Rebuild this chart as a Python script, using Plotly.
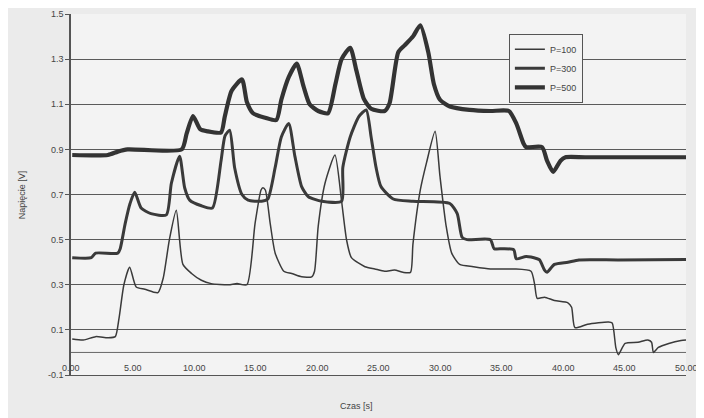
import plotly.graph_objects as go

# ---- data ----
t100 = [0.1, 1.0, 2.0, 3.0, 3.6, 3.9, 4.3, 4.77, 5.3, 6.0, 7.07, 7.5, 8.0, 8.56, 9.1, 9.8, 10.6, 11.4, 12.8, 13.5, 14.3,
        14.96, 15.45, 15.6, 15.8, 16.2, 16.6, 17.3, 17.94, 18.75, 19.57, 19.8, 20.1, 20.65, 21.46, 22.0, 22.4, 22.8, 23.9,
        24.7, 25.5, 26.3, 27.0, 27.6, 27.8, 28.4, 28.9, 29.6, 30.0, 30.5, 30.95, 31.6, 32.7, 34.1, 36.0, 37.4, 37.7, 37.9,
        38.5, 39.3, 40.4, 40.7, 40.97, 42.0, 43.7, 44.0, 44.3, 44.5, 45.05, 46.1, 46.9, 47.2, 47.35, 47.75, 48.6, 49.6, 50.0]
v100 = [0.06, 0.055, 0.07, 0.065, 0.07, 0.15, 0.3, 0.378, 0.29, 0.28, 0.265, 0.33, 0.5, 0.63, 0.39, 0.35, 0.32, 0.305, 0.3, 0.305, 0.3,
        0.57, 0.72, 0.73, 0.72, 0.57, 0.44, 0.36, 0.35, 0.335, 0.335, 0.36, 0.56, 0.75, 0.875, 0.67, 0.5, 0.42, 0.38,
        0.37, 0.36, 0.365, 0.355, 0.355, 0.48, 0.72, 0.84, 0.98, 0.78, 0.56, 0.44, 0.39, 0.38, 0.37, 0.37, 0.36, 0.3, 0.24,
        0.245, 0.23, 0.22, 0.2, 0.11, 0.125, 0.135, 0.13, 0.02, -0.01, 0.04, 0.045, 0.055, 0.045, 0.0, 0.022, 0.04, 0.053, 0.055]

t300 = [0.1, 1.65, 2.0, 3.8, 4.0, 4.4, 4.8, 5.18, 5.7, 6.5, 7.75, 8.16, 8.83, 9.24, 9.65, 10.6, 11.5, 12.2, 12.52, 12.9,
        13.3, 13.9, 14.4, 15.5, 16.0, 16.6, 17.1, 17.7, 18.2, 18.75, 19.3, 20.4, 22.0, 22.1, 22.7, 23.4, 24.0, 24.4, 24.8,
        25.2, 26.2, 27.8, 30.8, 31.4, 31.8, 32.2, 34.1, 34.4, 35.1, 36.0, 36.2, 37.0, 37.9, 38.1, 38.5, 38.7, 39.3, 40.4,
        41.3, 44.5, 50.0]
v300 = [0.42, 0.42, 0.44, 0.44, 0.46, 0.57, 0.66, 0.71, 0.64, 0.615, 0.61, 0.75, 0.87, 0.73, 0.675, 0.65, 0.64, 0.85, 0.96, 0.985,
        0.82, 0.70, 0.675, 0.67, 0.68, 0.82, 0.955, 1.015, 0.87, 0.735, 0.69, 0.67, 0.67, 0.82, 0.955, 1.045, 1.075, 0.955, 0.82,
        0.735, 0.68, 0.67, 0.66, 0.615, 0.51, 0.50, 0.50, 0.46, 0.46, 0.455, 0.415, 0.425, 0.415, 0.41, 0.365, 0.355, 0.39, 0.40,
        0.41, 0.41, 0.412]

t500 = [0.1, 3.0, 3.8, 4.6, 9.0, 9.4, 9.92, 10.5, 11.1, 12.2, 12.5, 13.06, 13.9, 14.3, 14.8, 15.8, 16.7, 17.1, 17.7, 18.35,
        18.9, 19.4, 20.1, 20.9, 21.5, 22.0, 22.7, 23.2, 23.8, 24.4, 25.5, 25.9, 26.6, 27.1, 27.8, 28.4, 29.05, 29.5, 30.0,
        30.8, 32.4, 34.1, 35.6, 36.2, 36.8, 37.0, 38.3, 38.7, 39.2, 39.8, 40.2, 41.8, 50.0]
v500 = [0.875, 0.875, 0.89, 0.9, 0.9, 0.97, 1.048, 0.99, 0.98, 0.975, 1.045, 1.16, 1.21, 1.11, 1.06, 1.04, 1.03, 1.12, 1.22, 1.28,
        1.18, 1.1, 1.07, 1.06, 1.19, 1.30, 1.35, 1.25, 1.125, 1.08, 1.07, 1.105, 1.33, 1.36, 1.40, 1.45, 1.33, 1.19, 1.12,
        1.09, 1.075, 1.07, 1.07, 1.015, 0.925, 0.91, 0.91, 0.85, 0.80, 0.85, 0.865, 0.865, 0.865]

x_ticks = [0, 5, 10, 15, 20, 25, 30, 35, 40, 45, 50]
x_tick_text = ["0.00", "5.00", "10.00", "15.00", "20.00", "25.00", "30.00", "35.00", "40.00", "45.00", "50.00"]
y_ticks = [1.5, 1.3, 1.1, 0.9, 0.7, 0.5, 0.3, 0.1, -0.1]
y_tick_text = ["1.5", "1.3", "1.1", "0.9", "0.7", "0.5", "0.3", "0.1", "-0.1"]

line_col = "#3a3a3a"
txt_col = "#444444"
font = "Liberation Sans, Arial, sans-serif"

fig = go.Figure()
fig.add_trace(go.Scatter(x=t100, y=v100, mode="lines", name="P=100",
                         line=dict(color=line_col, width=1.5, shape="spline", smoothing=0.6)))
fig.add_trace(go.Scatter(x=t300, y=v300, mode="lines", name="P=300",
                         line=dict(color=line_col, width=3.0, shape="spline", smoothing=0.6)))
fig.add_trace(go.Scatter(x=t500, y=v500, mode="lines", name="P=500",
                         line=dict(color="#333333", width=4.2, shape="spline", smoothing=0.6)))

# extra horizontal line at 0 (axis crossing line in the original)
fig.add_shape(type="line", xref="x", yref="y", x0=0, x1=50, y0=0, y1=0,
              line=dict(color="#666666", width=1), layer="below")

annotations = []
# x tick labels drawn just above the bottom axis line (inside the plot, as in the original)
for xv, xt in zip(x_ticks, x_tick_text):
    annotations.append(dict(x=xv, y=-0.1, xref="x", yref="y", text=xt, showarrow=False,
                            xanchor="center", yanchor="bottom", yshift=0,
                            font=dict(family=font, size=9, color=txt_col)))
# axis titles
annotations.append(dict(x=0.465, y=-0.086, xref="paper", yref="paper", text="Czas [s]", showarrow=False,
                        xanchor="center", yanchor="middle", font=dict(family=font, size=9, color=txt_col)))
annotations.append(dict(x=-0.08, y=0.5, xref="paper", yref="paper", text="Napięcie [V]", showarrow=False,
                        textangle=-90, xanchor="center", yanchor="middle",
                        font=dict(family=font, size=9, color=txt_col)))

# the page adds an 8 px body margin at top/left, so the figure is 8 px smaller
fig.update_layout(
    width=696, height=410,
    margin=dict(l=63, r=18, t=6, b=43),
    paper_bgcolor="#ebebeb", plot_bgcolor="#f3f3f3",
    font=dict(family=font, size=9, color=txt_col),
    showlegend=True,
    legend=dict(x=0.712, y=0.945, xanchor="left", yanchor="top",
                bgcolor="#f3f3f3", bordercolor="#555555", borderwidth=1,
                font=dict(size=9, color=txt_col), tracegroupgap=0),
    annotations=annotations,
    xaxis=dict(range=[0, 50], tickvals=x_ticks, showticklabels=False, showgrid=False, zeroline=False,
               showline=True, linecolor="#555555", linewidth=1, ticks="", automargin=False),
    yaxis=dict(range=[-0.1, 1.5], tickvals=y_ticks, ticktext=y_tick_text,
               showgrid=True, gridcolor="#5a5a5a", gridwidth=1, zeroline=False,
               showline=True, linecolor="#555555", linewidth=1.5,
               ticks="outside", ticklen=4, tickcolor="#555555", automargin=False,
               tickfont=dict(size=9, color=txt_col)),
)

fig.write_html("out.html")
